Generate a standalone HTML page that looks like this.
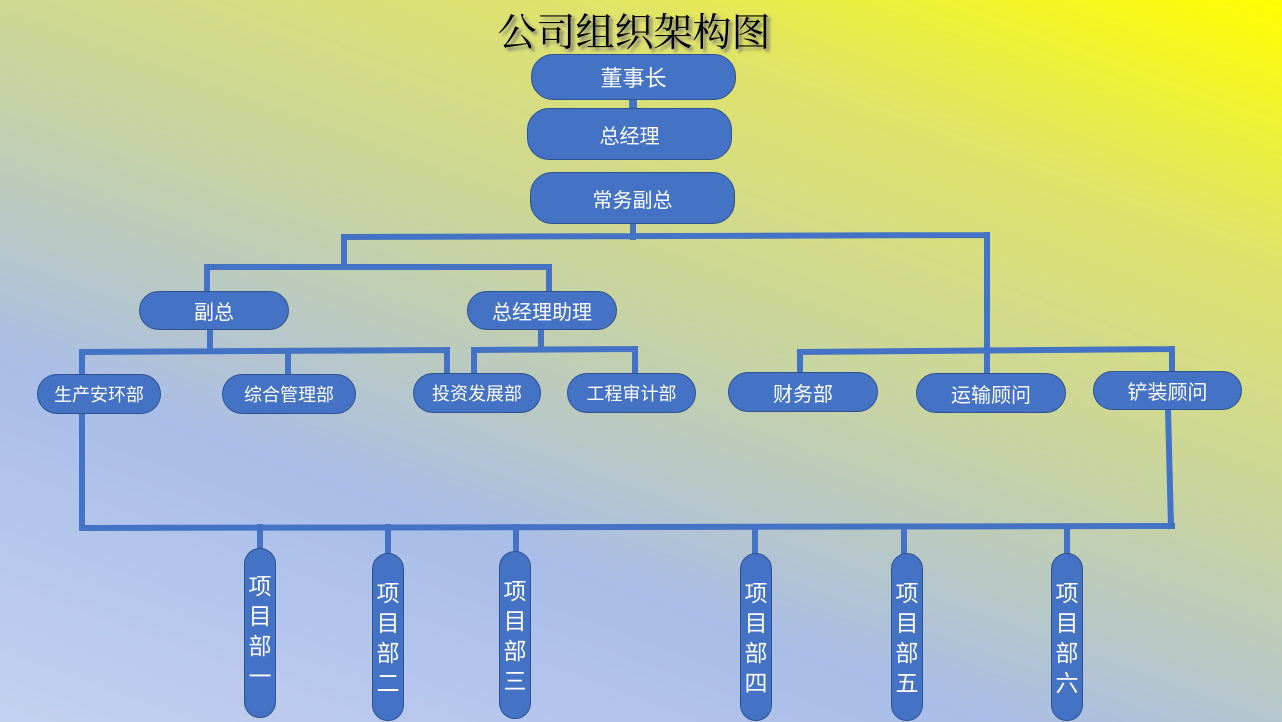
<!DOCTYPE html>
<html><head><meta charset="utf-8"><style>
body{margin:0;width:1282px;height:722px;overflow:hidden;position:relative;font-family:"Liberation Sans","Noto Sans CJK SC",sans-serif;
background:linear-gradient(20deg,#c4d1ef 0%,#a9bde9 30%,#c8d4a0 55%,#dfe36a 78%,#ffff00 100%);}
.n{position:absolute;background:#4472c4;border:1.5px solid #2f528f;border-radius:22px;color:#fff;font-size:20px;display:flex;align-items:center;justify-content:center;box-sizing:border-box}
.v{font-size:23px;line-height:30px;text-align:center;border-radius:16px;padding-top:24px;align-items:flex-start}
h1{position:absolute;left:0;width:1282px;top:2px;margin:0;text-align:center;font-size:39px;font-family:"Liberation Serif","Noto Serif CJK SC",serif;font-weight:normal;color:#000;text-shadow:3px 3px 3px #777}
svg{position:absolute;left:0;top:0}
</style></head><body>
<h1 style="left:-7px">公司组织架构图</h1>
<svg width="1282" height="722" stroke="#4472c4" stroke-width="6" fill="none" stroke-linecap="square">
<path d="M633 224V237M344 237L987 235M344 237V267M207 267H549M207 267V291M549 267V291M987 235V373"/>
<path d="M210 330V350M82 352L447 350M82 352V374M288 352V372M447 350V373"/>
<path d="M541 330V349M474 350L635 349M474 350V373M635 349V373"/>
<path d="M800 352L1172 349M800 352V372M1172 349V371"/>
<path d="M82 414V528M82 528L1172 526M1168 410L1171 526"/>
<path d="M260 527V548M388 527V553M516 527V551M755 527V553M904 527V553M1067 527V553"/>
<path d="M633 100V108" stroke-width="8"/>
</svg>
<div class="n" style="left:531px;top:54px;width:205px;height:46px;font-size:22px">董事长</div>
<div class="n" style="left:527px;top:108px;width:205px;height:52px">总经理</div>
<div class="n" style="left:530px;top:172px;width:205px;height:52px">常务副总</div>
<div class="n" style="left:139px;top:291px;width:150px;height:39px">副总</div>
<div class="n" style="left:467px;top:291px;width:150px;height:39px">总经理助理</div>
<div class="n" style="left:37px;top:374px;width:124px;height:40px;font-size:18px">生产安环部</div>
<div class="n" style="left:222px;top:374px;width:134px;height:40px;font-size:18px">综合管理部</div>
<div class="n" style="left:413px;top:373px;width:128px;height:40px;font-size:18px">投资发展部</div>
<div class="n" style="left:567px;top:373px;width:129px;height:40px;font-size:18px">工程审计部</div>
<div class="n" style="left:728px;top:372px;width:150px;height:40px">财务部</div>
<div class="n" style="left:916px;top:373px;width:150px;height:40px">运输顾问</div>
<div class="n" style="left:1093px;top:371px;width:149px;height:39px">铲装顾问</div>
<div class="n v" style="left:244px;top:548px;width:32px;height:170px;padding-top:22px">项<br>目<br>部<br>一</div>
<div class="n v" style="left:372px;top:553px;width:32px;height:168px">项<br>目<br>部<br>二</div>
<div class="n v" style="left:499px;top:551px;width:32px;height:168px">项<br>目<br>部<br>三</div>
<div class="n v" style="left:740px;top:553px;width:32px;height:168px">项<br>目<br>部<br>四</div>
<div class="n v" style="left:891px;top:553px;width:32px;height:168px">项<br>目<br>部<br>五</div>
<div class="n v" style="left:1051px;top:553px;width:32px;height:168px">项<br>目<br>部<br>六</div>
</body></html>
